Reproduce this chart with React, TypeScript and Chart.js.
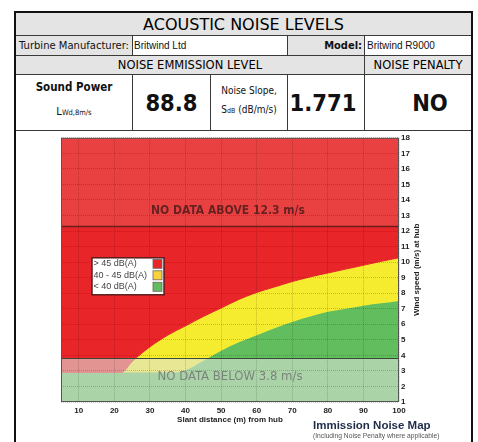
import React, { useEffect, useRef } from "react";
import { Chart, registerables } from "chart.js";

Chart.register(...registerables);

// ---- data ----
const distances = [5, 10, 15, 20, 22, 25, 30, 35, 40, 45, 50, 55, 60, 65, 70, 75, 80, 85, 90, 95, 100];
// wind speed (m/s) at which the 45 dB(A) level is reached
const limit45 = [2.9, 2.9, 2.9, 2.9, 2.9, 3.6, 4.55, 5.3, 5.9, 6.5, 7.05, 7.6, 8.05, 8.4, 8.75, 9.05, 9.3, 9.55, 9.8, 10.05, 10.28];
// wind speed (m/s) at which the 40 dB(A) level is reached
const limit40 = [2.9, 2.9, 2.9, 2.9, 2.9, 2.9, 2.9, 2.9, 3.05, 3.65, 4.3, 4.85, 5.3, 5.75, 6.15, 6.5, 6.8, 7.0, 7.2, 7.35, 7.5];
const legendLabels = ["> 45 dB(A)", "40 - 45 dB(A)", "< 40 dB(A)"];
const xTicks = [10, 20, 30, 40, 50, 60, 70, 80, 90, 100];
const yTicks = [1, 2, 3, 4, 5, 6, 7, 8, 9, 10, 11, 12, 13, 14, 15, 16, 17, 18];
const noDataAbove = 12.3;
const noDataBelow = 3.8;

const RED = "#e8262a";
const YELLOW = "#f5ec2f";
const GREEN = "#62bd5e";

const TAHOMA = "'DejaVu Sans', sans-serif";
const TAHOMA_C = "'DejaVu Sans Condensed', 'DejaVu Sans', sans-serif";
const ARIAL = "'Liberation Sans', Arial, sans-serif";

const overlayPlugin = {
  id: "noiseOverlay",
  afterDatasetsDraw(chart: any) {
    const { ctx, chartArea: a, scales } = chart;
    const y = scales.y;
    const yA = y.getPixelForValue(noDataAbove);
    const yB = y.getPixelForValue(noDataBelow);
    ctx.save();
    ctx.fillStyle = "rgba(240,220,200,0.15)";
    ctx.fillRect(a.left, a.top, a.right - a.left, yA - a.top);
    ctx.fillStyle = "rgba(222,228,222,0.58)";
    ctx.fillRect(a.left, yB, a.right - a.left, a.bottom - yB);
    ctx.lineWidth = 1.5;
    ctx.strokeStyle = "#6a1e1e";
    ctx.beginPath();
    ctx.moveTo(a.left, yA);
    ctx.lineTo(a.right, yA);
    ctx.stroke();
    ctx.lineWidth = 1.2;
    ctx.strokeStyle = "#3c4a3c";
    ctx.beginPath();
    ctx.moveTo(a.left, yB);
    ctx.lineTo(a.right, yB);
    ctx.stroke();
    ctx.restore();
  },
  afterDraw(chart: any) {
    const { ctx, chartArea: a, scales } = chart;
    const y = scales.y;
    const yA = y.getPixelForValue(noDataAbove);
    const yB = y.getPixelForValue(noDataBelow);
    const cx = (a.left + a.right) / 2;
    ctx.save();
    // plot border
    ctx.strokeStyle = "#555";
    ctx.lineWidth = 1;
    ctx.strokeRect(a.left + 0.5, a.top + 0.5, a.right - a.left - 1, a.bottom - a.top - 1);

    // band texts
    ctx.textAlign = "center";
    ctx.textBaseline = "middle";
    ctx.font = `bold 12px ${TAHOMA_C}`;
    ctx.fillStyle = "rgba(70,25,25,0.8)";
    ctx.fillText(`NO DATA ABOVE ${noDataAbove} m/s`, cx - 2, yA - 16);
    ctx.font = `13px ${TAHOMA_C}`;
    ctx.fillStyle = "rgba(115,118,115,0.85)";
    ctx.fillText(`NO DATA BELOW ${noDataBelow} m/s`, cx, yB + 18);

    // legend
    const lx = a.left + 31;
    const ly = a.top + 120;
    const lw = 72;
    const lh = 37;
    ctx.fillStyle = "#fff";
    ctx.fillRect(lx, ly, lw, lh);
    ctx.strokeStyle = "#5a1c1c";
    ctx.lineWidth = 1.5;
    ctx.strokeRect(lx, ly, lw, lh);
    ctx.textAlign = "left";
    ctx.font = `9px ${ARIAL}`;
    chart.data.datasets.forEach((ds: any, i: number) => {
      const ty = ly + 6 + i * 11.5;
      ctx.fillStyle = "#444";
      ctx.fillText(ds.label, lx + 1.5, ty);
      ctx.fillStyle = i === 1 ? "#f7d23a" : ds.backgroundColor;
      ctx.fillRect(lx + 61, ty - 4.5, 9, 9);
      ctx.strokeStyle = "#666";
      ctx.lineWidth = 0.8;
      ctx.strokeRect(lx + 61, ty - 4.5, 9, 9);
    });

    // y axis title (reads bottom to top)
    ctx.translate(a.right + 18, (a.top + a.bottom) / 2);
    ctx.rotate(-Math.PI / 2);
    ctx.textAlign = "center";
    ctx.font = `bold 8px ${ARIAL}`;
    ctx.fillStyle = "#222";
    ctx.fillText("Wind speed (m/s) at hub", 0, 0);
    ctx.restore();
  },
};

function NoiseChart() {
  const ref = useRef<HTMLCanvasElement | null>(null);
  useEffect(() => {
    if (!ref.current) return;
    const pts = (arr: number[]) => distances.map((d, i) => ({ x: d, y: arr[i] }));
    const common = { pointRadius: 0, cubicInterpolationMode: "monotone" as const };
    const gridOpts = { color: "rgba(0,0,0,0.2)", drawTicks: false, lineWidth: 1, z: 1 };
    const chart = new Chart(ref.current, {
      type: "line",
      data: {
        datasets: [
          { label: legendLabels[0], data: pts(limit45), fill: "end", backgroundColor: RED, borderColor: RED, borderWidth: 1, ...common },
          { label: legendLabels[1], data: pts(limit45), fill: 2, backgroundColor: YELLOW, borderColor: YELLOW, borderWidth: 0, ...common },
          { label: legendLabels[2], data: pts(limit40), fill: "start", backgroundColor: GREEN, borderColor: GREEN, borderWidth: 1, ...common },
        ],
      },
      options: {
        animation: false,
        responsive: false,
        maintainAspectRatio: false,
        layout: { padding: { left: 45, right: 55, top: 6, bottom: 17 } },
        plugins: { legend: { display: false }, tooltip: { enabled: false } },
        scales: {
          x: {
            type: "linear",
            min: 5,
            max: 100,
            afterBuildTicks: (s: any) => {
              s.ticks = xTicks.map((v) => ({ value: v }));
            },
            afterFit: (s: any) => {
              s.height = 23;
            },
            grid: gridOpts,
            border: { display: false, dash: [1, 1] },
            ticks: { font: { family: ARIAL, size: 8, weight: "bold" }, color: "#222", padding: 4, maxRotation: 0 },
            title: { display: true, text: "Slant distance (m) from hub", font: { family: ARIAL, size: 8, weight: "bold" }, color: "#222", padding: 0 },
          },
          y: {
            type: "linear",
            position: "right",
            min: 1,
            max: 18,
            afterBuildTicks: (s: any) => {
              s.ticks = yTicks.map((v) => ({ value: v }));
            },
            afterFit: (s: any) => {
              s.width = 16;
            },
            grid: gridOpts,
            border: { display: false, dash: [1, 1] },
            ticks: { font: { family: ARIAL, size: 8, weight: "bold" }, color: "#222", padding: 2 },
          },
        },
      } as any,
      plugins: [overlayPlugin],
    });
    return () => chart.destroy();
  }, []);
  return (
    <canvas
      ref={ref}
      width={454}
      height={311}
      style={{ position: "absolute", left: 16, top: 131, width: 454, height: 311 }}
    />
  );
}

type CellProps = {
  x0: number;
  x1: number;
  y0: number;
  y1: number;
  gray?: boolean;
  align?: "left" | "center" | "right";
  children?: React.ReactNode;
  style?: React.CSSProperties;
};

function Cell({ x0, x1, y0, y1, gray, align = "center", children, style }: CellProps) {
  return (
    <div
      style={{
        position: "absolute",
        left: x0 + 1,
        top: y0 + 1,
        width: x1 - x0,
        height: y1 - y0,
        boxSizing: "border-box",
        borderRight: "1px solid #3a3a3a",
        borderBottom: "1px solid #3a3a3a",
        background: gray ? "#e4e4e4" : "#fff",
        display: "flex",
        alignItems: "center",
        justifyContent: align === "left" ? "flex-start" : align === "right" ? "flex-end" : "center",
        color: "#111",
        whiteSpace: "nowrap",
        overflow: "hidden",
        ...style,
      }}
    >
      {children}
    </div>
  );
}

export default function App() {
  const big: React.CSSProperties = { fontFamily: TAHOMA_C, fontWeight: "bold", fontSize: 23.5, paddingTop: 1 };
  return (
    <div style={{ position: "absolute", left: 0, top: 0, width: 478, height: 442, background: "#fff", overflow: "hidden" }}>
      {/* row 1 */}
      <Cell x0={15} x1={471} y0={12} y1={35} gray style={{ fontFamily: TAHOMA, fontSize: 16, color: "#000" }}>
        ACOUSTIC NOISE LEVELS
      </Cell>
      {/* row 2 */}
      <Cell x0={15} x1={132} y0={35} y1={55} gray align="right" style={{ fontFamily: TAHOMA, fontSize: 10, paddingRight: 3 }}>
        Turbine Manufacturer:
      </Cell>
      <Cell x0={132} x1={287} y0={35} y1={55} align="left" style={{ fontFamily: ARIAL, fontSize: 10, paddingLeft: 1 }}>
        Britwind Ltd
      </Cell>
      <Cell x0={287} x1={364} y0={35} y1={55} gray align="right" style={{ fontFamily: TAHOMA_C, fontSize: 11, fontWeight: "bold", paddingRight: 2 }}>
        Model:
      </Cell>
      <Cell x0={364} x1={471} y0={35} y1={55} align="left" style={{ fontFamily: ARIAL, fontSize: 10, paddingLeft: 2 }}>
        Britwind R9000
      </Cell>
      {/* row 3 */}
      <Cell x0={15} x1={364} y0={55} y1={74} gray style={{ fontFamily: TAHOMA, fontSize: 11.5, color: "#000" }}>
        NOISE EMMISSION LEVEL
      </Cell>
      <Cell x0={364} x1={471} y0={55} y1={74} gray style={{ fontFamily: TAHOMA, fontSize: 11.5, color: "#000" }}>
        NOISE PENALTY
      </Cell>
      {/* row 4 */}
      <Cell x0={15} x1={132} y0={74} y1={130} style={{ flexDirection: "column", fontFamily: TAHOMA_C }}>
        <div style={{ fontSize: 11.5, fontWeight: "bold", lineHeight: "14px", marginTop: -6 }}>Sound Power</div>
        <div style={{ fontSize: 11, lineHeight: "14px", marginTop: 11 }}>
          L<span style={{ fontSize: 7.5 }}>Wd,8m/s</span>
        </div>
      </Cell>
      <Cell x0={132} x1={210} y0={74} y1={130} style={big}>
        88.8
      </Cell>
      <Cell x0={210} x1={287} y0={74} y1={130} style={{ flexDirection: "column", fontFamily: TAHOMA_C }}>
        <div style={{ fontSize: 10, lineHeight: "13px", marginTop: -4 }}>Noise Slope,</div>
        <div style={{ fontSize: 10, lineHeight: "13px", marginTop: 6 }}>
          S<span style={{ fontSize: 7 }}>dB</span> (dB/m/s)
        </div>
      </Cell>
      <Cell x0={287} x1={364} y0={74} y1={130} style={{ ...big, paddingRight: 6 }}>
        1.771
      </Cell>
      <Cell x0={364} x1={471} y0={74} y1={130} style={{ ...big, paddingLeft: 24 }}>
        NO
      </Cell>
      {/* outer frame */}
      <div
        style={{
          position: "absolute",
          left: 14,
          top: 11,
          width: 459,
          height: 460,
          boxSizing: "border-box",
          border: "2px solid #111",
          pointerEvents: "none",
        }}
      />
      <NoiseChart />
      <div
        style={{
          position: "absolute",
          left: 313,
          top: 419,
          fontFamily: ARIAL,
          fontWeight: "bold",
          fontSize: 11.5,
          lineHeight: "13px",
          color: "#1e2b48",
          whiteSpace: "nowrap",
        }}
      >
        Immission Noise Map
      </div>
      <div
        style={{
          position: "absolute",
          left: 313,
          top: 432,
          fontFamily: ARIAL,
          fontSize: 6.7,
          lineHeight: "7px",
          color: "#555",
          whiteSpace: "nowrap",
        }}
      >
        (Including Noise Penalty where applicable)
      </div>
    </div>
  );
}
